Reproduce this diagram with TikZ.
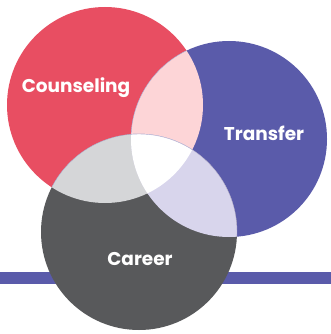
\documentclass[tikz,border=0pt]{standalone}
\usepackage{fontspec}
\setmainfont{Poppins}
\usetikzlibrary{positioning}
\definecolor{redc}{RGB}{232,78,98}
\definecolor{bluec}{RGB}{90,91,170}
\definecolor{grayc}{RGB}{88,89,91}
\definecolor{pinkc}{RGB}{253,213,215}
\definecolor{lgrayc}{RGB}{213,214,216}
\definecolor{lbluec}{RGB}{216,213,236}
\definecolor{edgec}{RGB}{184,178,210}

\tikzset{
  ring/.style={circle, inner sep=0pt, minimum size=196pt},
  lbl/.style={text=white, font=\fontsize{18.5}{20}\selectfont\bfseries}
}

\begin{document}
\begin{tikzpicture}[x=1pt,y=-1pt]
\useasboundingbox (0,0) rectangle (331,334);
\fill[bluec] (0,272) rectangle (331,284);

\node[ring, fill=redc] (counseling) at (105,105) {};
\node[ring, fill=bluec] (transfer) at (229,139) {};
\node[ring, fill=grayc] (career) at (139,232) {};

% overlaps
\begin{scope}
\clip (counseling.center) circle (98pt);
\fill[pinkc, draw=edgec, line width=0.4pt] (transfer.center) circle (98pt);
\end{scope}
\begin{scope}
\clip (counseling.center) circle (98pt);
\fill[lgrayc, draw=edgec, line width=0.4pt] (career.center) circle (98pt);
\end{scope}
\begin{scope}
\clip (transfer.center) circle (98pt);
\fill[lbluec, draw=edgec, line width=0.4pt] (career.center) circle (98pt);
\end{scope}
\begin{scope}
\clip (counseling.center) circle (98pt);
\clip (transfer.center) circle (98pt);
\fill[white, draw=edgec, line width=0.4pt] (career.center) circle (98pt);
\end{scope}

\node[lbl] (counselinglbl) at (76,88) {Counseling};
\node[lbl] (transferlbl) at (264,133) {Transfer};
\node[lbl] (careerlbl) at (140,259) {Career};
\end{tikzpicture}
\end{document}
